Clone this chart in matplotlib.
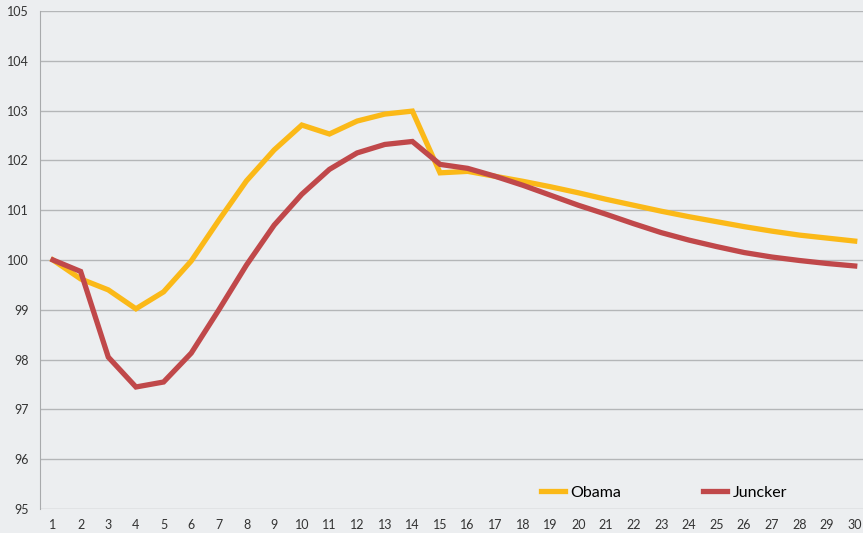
import numpy as np
import matplotlib.pyplot as plt

periods = list(range(1, 31))
obama = [100.0, 99.62, 99.40, 99.02, 99.36, 99.98, 100.80, 101.59, 102.21, 102.71,
         102.53, 102.79, 102.93, 102.99, 101.75, 101.78, 101.68, 101.58, 101.47, 101.35,
         101.22, 101.10, 100.98, 100.87, 100.77, 100.67, 100.58, 100.50, 100.44, 100.38]
juncker = [100.0, 99.77, 98.05, 97.45, 97.55, 98.13, 99.00, 99.90, 100.70, 101.32,
           101.82, 102.15, 102.32, 102.38, 101.92, 101.84, 101.68, 101.50, 101.30, 101.10,
           100.92, 100.73, 100.55, 100.40, 100.27, 100.15, 100.06, 99.99, 99.93, 99.88]
yticks = list(range(95, 106))

plt.rcParams['font.family'] = ['Lato', 'DejaVu Sans']

fig = plt.figure(figsize=(8.63, 5.33), dpi=100, facecolor='#eceef0')
ax = fig.add_axes([40 / 863, 24 / 533, 823 / 863, 498 / 533])
ax.set_facecolor('#eceef0')

ax.plot(periods, obama, color='#fbb918', lw=3.8, label='Obama', solid_joinstyle='miter')
ax.plot(periods, juncker, color='#c0484a', lw=3.8, label='Juncker', solid_joinstyle='miter')

ax.set_ylim(95, 105)
ax.set_xlim(0.53, 30.3)
ax.set_yticks(yticks)
ax.set_xticks(periods)
ax.grid(axis='y', color='#b4b6b8', lw=1)
ax.set_axisbelow(True)
for side in ['top', 'right', 'bottom']:
    ax.spines[side].set_visible(False)
ax.spines['left'].set_color('#a8aaac')
ax.tick_params(length=0, labelsize=9, colors='#333333')
ax.tick_params(axis='y', pad=8)
ax.tick_params(axis='x', pad=7)

ax.legend(loc='lower right', bbox_to_anchor=(0.925, -0.01), ncol=2, frameon=False,
          fontsize=11.5, handlelength=1.5, columnspacing=5.1, handletextpad=0.35)

fig.savefig('out.png', dpi=100, facecolor=fig.get_facecolor())
